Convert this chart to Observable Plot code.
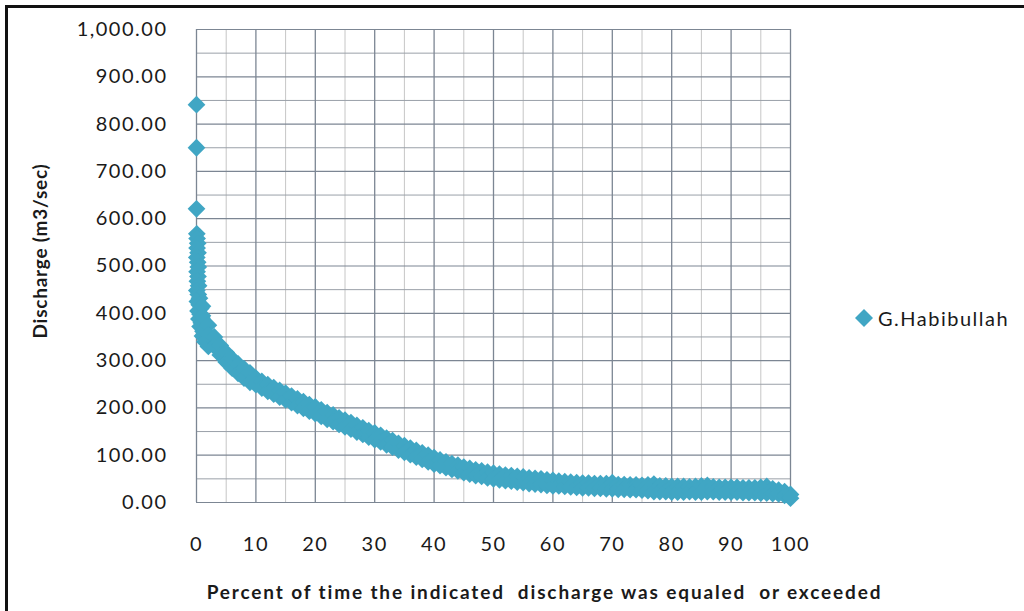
<!DOCTYPE html>
<html><head><meta charset="utf-8">
<script src="https://cdn.jsdelivr.net/npm/d3@7"></script>
<script src="https://cdn.jsdelivr.net/npm/@observablehq/plot@0.6"></script>
<style>
html,body{margin:0;padding:0;background:#fff;overflow:hidden;}
#wrap{position:relative;width:1024px;height:611px;}
#chart svg{letter-spacing:1.5px;}
#border{position:absolute;left:5px;top:5px;width:1100px;height:700px;border-left:3px solid #111;border-top:3px solid #111;box-sizing:border-box;pointer-events:none;}
#legend{position:absolute;left:854px;top:306px;font-family:Lato,sans-serif;font-size:20px;letter-spacing:1.5px;display:flex;align-items:center;color:#1a1a1a;}
#legend svg{display:block;margin-right:4px;}
</style></head><body>
<div id="wrap"><div id="chart"></div><div id="legend"></div><div id="border"></div></div>
<script>
// ---- data ----
const seriesName = "G.Habibullah";
const xTitle = "Percent of time the indicated  discharge was equaled  or exceeded";
const yTitle = "Discharge (m3/sec)";

const xTicks = [0, 10, 20, 30, 40, 50, 60, 70, 80, 90, 100];
const xMinor = [5, 15, 25, 35, 45, 55, 65, 75, 85, 95];
const yTicks = [0, 100, 200, 300, 400, 500, 600, 700, 800, 900, 1000];
const yMinor = [50, 150, 250, 350, 450, 550, 650, 750, 850, 950];

// highest flows, near 0 % exceedance
const headPct = [0, 0, 0, 0.05, 0.1, 0.2, 0.1, 0.25, 0.05, 0.2, 0.3, 0.1, 0.25, 0.15, 0.35, 0.05, 0.3, 0.5, 0.15, 0.45, 0.7, 0.25, 0.6, 0.9, 0.4, 0.8, 1.2, 0.6, 1.1, 1.5, 1.0, 1.6, 2.2, 1.4, 2.0];
const headQ   = [841, 750, 621, 568, 558, 548, 538, 528, 518, 508, 498, 488, 478, 468, 458, 448, 440, 432, 425, 418, 410, 405, 398, 390, 388, 380, 372, 372, 362, 355, 352, 345, 338, 340, 330];

// exceedance percent and the upper / lower edge of the band of daily flows
const pct = [1,2,3,4,5,6,7,8,9,10,11,12,13,14,15,16,17,18,19,20,21,22,23,24,25,26,27,28,29,30,31,32,33,34,35,36,37,38,39,40,41,42,43,44,45,46,47,48,49,50,51,52,53,54,55,56,57,58,59,60,61,62,63,64,65,66,67,68,69,70,71,72,73,74,75,76,77,78,79,80,81,82,83,84,85,86,87,88,89,90,91,92,93,94,95,96,97,98,99,100];
const qUpper = [415,375,350,332,317,304,293,283,274,263,
  256,249,243,237,231,225,219,213,207,202,
  196,190,185,179,174,169,163,158,152,147,
  142,136,131,125,120,115,110,105,100,95,
  90,86,82,79,75,72,69,67,64,62,
  60,58,57,55,54,52,51,50,48,47,
  45,44,43,42,41,41,40,40,40,42,
  38,38,37,37,36,37,39,35,35,34,
  34,34,33,34,35,36,33,32,32,32,
  32,31,31,31,32,34,29,26,23,17];
const qLower = [395,355,330,312,297,284,273,263,254,249,
  242,235,229,223,217,211,205,199,193,188,
  182,176,171,165,160,155,149,144,138,133,
  128,122,117,111,106,101,96,91,86,81,
  78,74,70,67,63,60,57,55,52,50,
  48,46,45,43,42,40,39,38,36,35,
  35,34,33,32,31,31,30,30,29,29,
  28,28,27,27,26,25,23,23,23,22,
  22,22,23,22,22,23,23,22,22,22,
  22,21,21,21,20,20,19,18,15,9];

// ---- build table for the library ----
const points = [];
headPct.forEach((p, i) => points.push({p, q: headQ[i]}));
pct.forEach((p, i) => { points.push({p, q: qUpper[i]}); points.push({p, q: qLower[i]}); });

const color = "#40a6c4";
const chart = Plot.plot({
  width: 1024, height: 611,
  marginLeft: 196, marginRight: 234, marginTop: 29, marginBottom: 109,
  x: {domain: [0, 100], axis: null},
  y: {domain: [0, 1000], axis: null},
  style: "font-family: Lato, sans-serif; font-size: 20px; color: #1a1a1a; background: transparent;",
  marks: [
    Plot.ruleX(xMinor, {stroke: "#c6c6c6", strokeWidth: 1}),
    Plot.ruleY(yMinor, {stroke: "#9aa0a8", strokeWidth: 1}),
    Plot.ruleY(yTicks, {stroke: "#7c8693", strokeWidth: 1.2}),
    Plot.ruleX(xTicks, {stroke: "#7c8693", strokeWidth: 1.3}),
    Plot.axisX({ticks: xTicks, tickSize: 0, tickPadding: 34, tickFormat: d => String(d), label: null}),
    Plot.axisY({ticks: yTicks, tickSize: 0, tickPadding: 29, tickFormat: d3.format(",.2f"), label: null}),
    Plot.dot(points, {x: "p", y: "q", symbol: "diamond2", r: 8, fill: color, stroke: null}),
    Plot.text([xTitle], {frameAnchor: "bottom", textAnchor: "middle", dx: 51, dy: 96, fontWeight: "bold", fontSize: 19}),
    Plot.text([yTitle], {frameAnchor: "left", textAnchor: "middle", rotate: -90, dx: -156, dy: -15, fontWeight: "bold", fontSize: 19})
  ]
});
document.getElementById("chart").appendChild(chart);

// stretch axis titles to the spans measured on the reference
const fit = (str, len) => {
  const t = Array.from(chart.querySelectorAll("text")).find(e => e.textContent === str);
  if (!t) return;
  t.style.letterSpacing = "0px";
  const w = t.getComputedTextLength();
  const n = str.length;
  t.style.letterSpacing = ((len - w) / n).toFixed(2) + "px";
};
fit(xTitle, 676);
fit(yTitle, 175);

// legend
const lg = document.getElementById("legend");
lg.innerHTML = `<svg width="20" height="20"><polygon points="10,1 19,10 10,19 1,10" fill="${color}"/></svg><span>${seriesName}</span>`;
</script>
</body></html>
